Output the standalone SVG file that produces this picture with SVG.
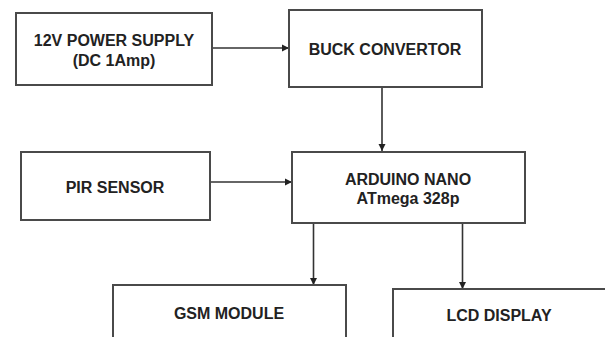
<svg xmlns="http://www.w3.org/2000/svg" width="605" height="337" viewBox="0 0 605 337">
<style>
.box{fill:#fff;stroke:#4a4a4a;stroke-width:2}
.t{font-family:"Liberation Sans",Arial,sans-serif;font-weight:bold;font-size:16px;fill:#222;text-anchor:middle}
.c{stroke:#333;stroke-width:1.6;fill:none;marker-end:url(#ah)}
</style>
<defs>
<marker id="ah" markerWidth="8" markerHeight="8" refX="7" refY="4" orient="auto" markerUnits="userSpaceOnUse">
<path d="M0,0.5 L7,4 L0,7.5 Z" fill="#222"/>
</marker>
</defs>
<rect width="605" height="337" fill="#fff"/>
<g id="connectors">
<line class="c" x1="212" y1="48" x2="289" y2="48"/>
<line class="c" x1="382" y1="87" x2="382" y2="151"/>
<line class="c" x1="210" y1="182" x2="292" y2="182"/>
<line class="c" x1="313.5" y1="223" x2="313.5" y2="285"/>
<line class="c" x1="462.5" y1="223" x2="462.5" y2="289"/>
</g>
<g id="power">
<rect class="box" x="16" y="13" width="196" height="72"/>
<text class="t" x="114" y="46">12V POWER SUPPLY</text>
<text class="t" x="114" y="66">(DC 1Amp)</text>
</g>
<g id="buck">
<rect class="box" x="289" y="10" width="193" height="77"/>
<text class="t" x="385" y="55">BUCK CONVERTOR</text>
</g>
<g id="pir">
<rect class="box" x="21" y="152" width="189" height="68"/>
<text class="t" x="115" y="193">PIR SENSOR</text>
</g>
<g id="arduino">
<rect class="box" x="292" y="152" width="233" height="71"/>
<text class="t" x="408" y="185">ARDUINO NANO</text>
<text class="t" x="408" y="204">ATmega 328p</text>
</g>
<g id="gsm">
<rect class="box" x="113" y="285" width="233" height="60"/>
<text class="t" x="229" y="319">GSM MODULE</text>
</g>
<g id="lcd">
<rect class="box" x="393" y="289" width="230" height="60"/>
<text class="t" x="499" y="321">LCD DISPLAY</text>
</g>
</svg>
